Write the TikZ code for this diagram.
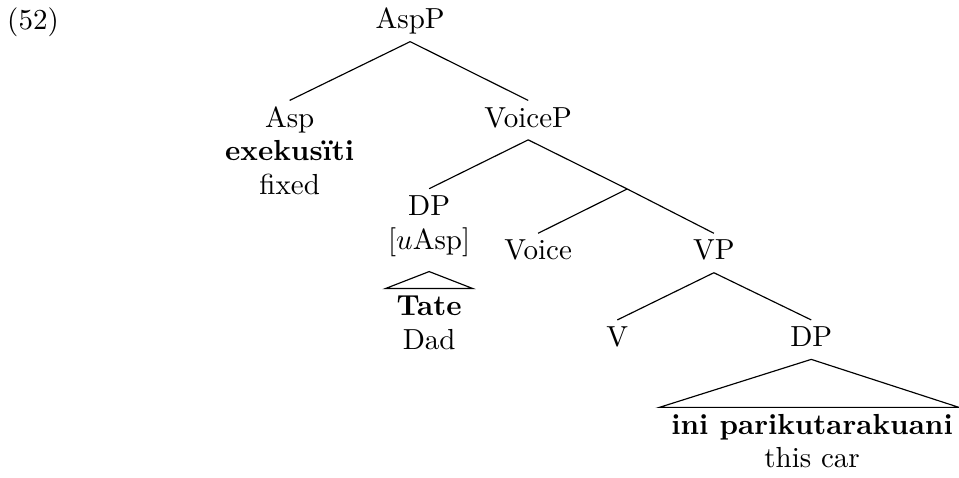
\documentclass[tikz,border=0pt]{standalone}
\usepackage{tikz}
\usetikzlibrary{positioning,calc}

\begin{document}
\begin{tikzpicture}[cat/.style={anchor=base, inner sep=2pt, text height=7pt, text depth=2.2pt},
                    gloss/.style={anchor=base, inner sep=2pt}]
    \useasboundingbox (0,0) rectangle (11.62,-5.78);

    % Example number
    \node[gloss] (num) at (0.40,-0.36) {(52)};

    % Categories
    \node[cat] (aspp) at (4.97,-0.35) {AspP};
    \node[cat] (asp) at (3.51,-1.54) {Asp};
    \node[cat] (voicep) at (6.40,-1.54) {VoiceP};
    \node[cat] (dpa) at (5.20,-2.61) {DP};
    \coordinate (vbar) at (7.60,-2.29);
    \node[cat] (voice) at (6.52,-3.15) {Voice};
    \node[cat] (vp) at (8.65,-3.15) {VP};
    \node[cat] (v) at (7.48,-4.20) {V};
    \node[cat] (dpb) at (9.83,-4.20) {DP};

    % Words and glosses
    \node[gloss] (exek) at (3.51,-1.95) {\textbf{exekusïti}};
    \node[gloss] (fixed) at (3.51,-2.36) {fixed};
    \node[gloss] (uasp) at (5.20,-3.02) {[$u$Asp]};
    \node[cat] (tate) at (5.20,-3.82) {\textbf{Tate}};
    \node[gloss] (dad) at (5.20,-4.23) {Dad};
    \node[cat] (car) at (9.84,-5.26) {\textbf{ini parikutarakuani}};
    \node[gloss] (thiscar) at (9.84,-5.67) {this car};

    % Branches
    \draw (aspp.south) -- (asp.north);
    \draw (aspp.south) -- (voicep.north);
    \draw (voicep.south) -- (dpa.north);
    \draw (voicep.south) -- (vbar);
    \draw (vbar) -- (voice.north);
    \draw (vbar) -- (vp.north);
    \draw (vp.south) -- (v.north);
    \draw (vp.south) -- (dpb.north);

    % Roofs
    \draw ([yshift=-3pt]uasp.south) -- ([xshift=-0.53cm]tate.north) -- ([xshift=0.53cm]tate.north) -- cycle;
    \draw (dpb.south) -- ([xshift=-2pt]car.north west) -- (car.north east) -- cycle;
\end{tikzpicture}
\end{document}
